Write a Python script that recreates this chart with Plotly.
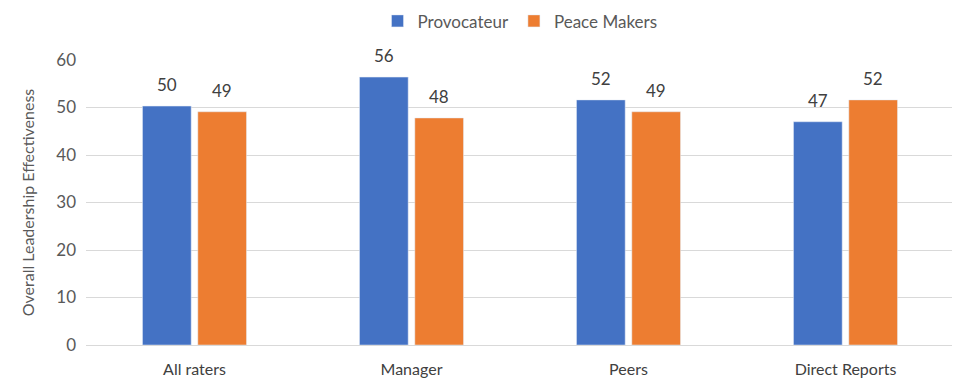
import plotly.graph_objects as go

categories = ["All raters", "Manager", "Peers", "Direct Reports"]
provocateur = [50.3, 56.4, 51.6, 47.0]
peace_makers = [49.1, 47.8, 49.1, 51.6]
y_ticks = [0, 10, 20, 30, 40, 50, 60]

FONT = "Lato, 'Open Sans', sans-serif"
TXT = "#595959"
BARGAP = 0.49

fig = go.Figure()
fig.add_trace(go.Bar(name="Provocateur", x=categories, y=provocateur, marker_color="#4472C4"))
fig.add_trace(go.Bar(name="Peace Makers", x=categories, y=peace_makers, marker_color="#ED7D31"))

# data labels above bars
slot = (1 - BARGAP) / 2
for si, series in enumerate([provocateur, peace_makers]):
    off = (si - 0.5) * slot
    for i, v in enumerate(series):
        fig.add_annotation(x=i + off, y=v, xref="x", yref="y", text=f"{v:.0f}",
                           showarrow=False, yanchor="bottom", yshift=9,
                           font=dict(size=17, color="#404040", family=FONT))

fig.update_layout(
    width=960, height=392,
    margin=dict(l=78, r=14, t=52, b=55, autoexpand=False),
    paper_bgcolor="white", plot_bgcolor="white",
    barmode="group", bargap=BARGAP, bargroupgap=0.12,
    font=dict(family=FONT, color=TXT, size=16),
    legend=dict(orientation="h", x=0.5, xanchor="center", y=0.966, yanchor="middle",
                yref="container", font=dict(size=17, color=TXT), itemwidth=30,
                borderwidth=0),
    showlegend=True,
)
fig.update_yaxes(
    range=[0, 60], tickvals=y_ticks, showgrid=True, gridcolor="#D9D9D9", gridwidth=1,
    zeroline=False, showline=False, ticks="", ticklabelstandoff=9,
    tickfont=dict(size=17, color=TXT),
    title=dict(text="Overall Leadership Effectiveness", font=dict(size=16, color=TXT), standoff=17),
)
fig.update_xaxes(
    showline=True, linecolor="#D9D9D9", linewidth=1, ticks="", ticklabelstandoff=10,
    tickfont=dict(size=16, color="#404040"),
)

fig.write_html("out.html")
